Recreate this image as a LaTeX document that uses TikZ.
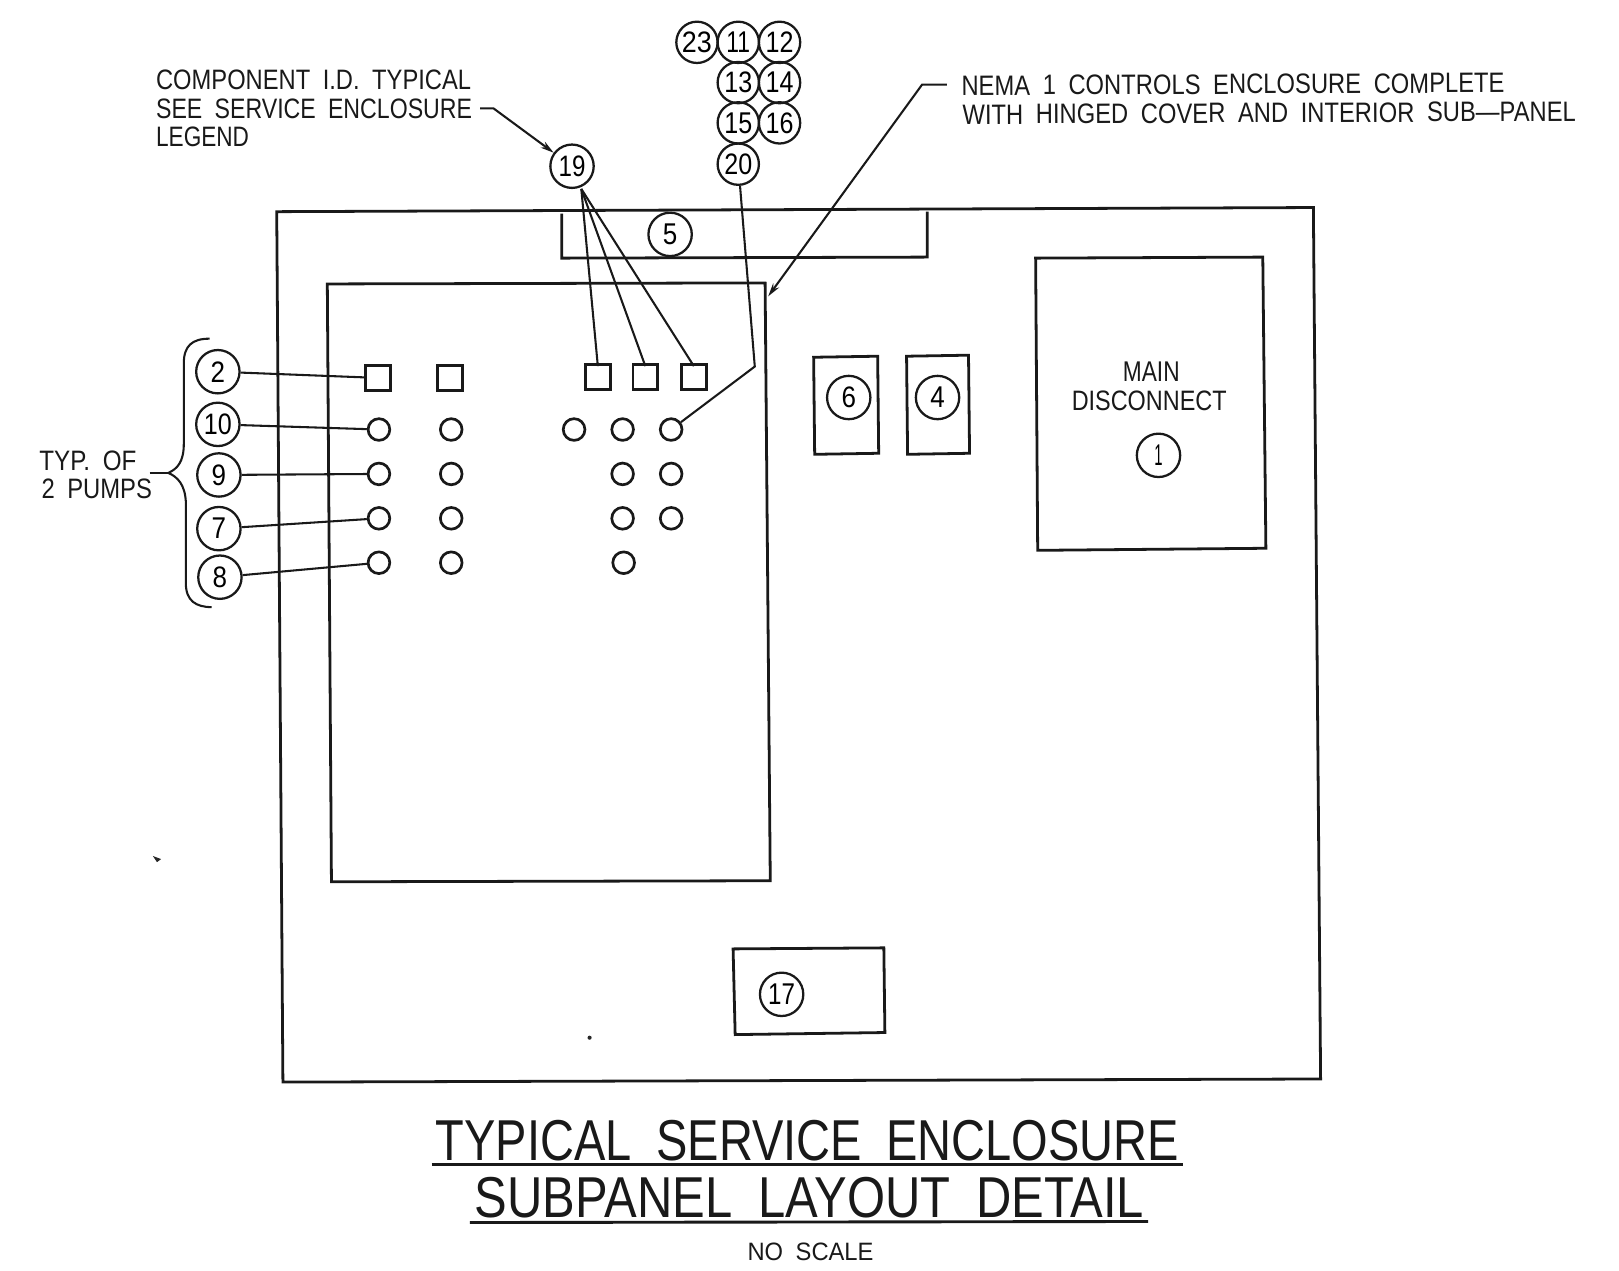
\documentclass[tikz,border=0pt]{standalone}
\usepackage{fontspec}
\usepackage{graphicx}
\setmainfont[WordSpace=1.9]{Liberation Sans}
\usetikzlibrary{arrows.meta}
\newcommand{\ft}[3]{\resizebox{#1pt}{#2pt}{\fontsize{20pt}{20pt}\selectfont #3}}
\tikzset{
  box/.style={line width=2.7pt,line join=miter,black!90},
  lead/.style={line width=2pt,black!90},
  tick/.style={lead,-{Stealth[length=13pt,width=7pt]}},
  bub/.style={circle,draw=black!90,line width=2.2pt,minimum size=40pt,inner sep=0pt,fill=none},
  big/.style={bub,minimum size=42pt},
  sq/.style={rectangle,draw=black!90,line width=2.8pt,minimum size=24pt,inner sep=0pt},
  dot/.style={circle,draw=black!90,line width=2.6pt,minimum size=21pt,inner sep=0pt},
  lab/.style={inner sep=0pt,anchor=west,text=black!90},
  clab/.style={inner sep=0pt,anchor=center,text=black!90},
  under/.style={line width=2.8pt,black!90}
}
\begin{document}
\begin{tikzpicture}[x=1pt,y=-1pt]
\useasboundingbox (0,0) rectangle (1568,1230);
% boxes
\draw[box] (268,205) -- (1272,201) -- (1279,1045) -- (274,1048) -- cycle;
\draw[box] (544,207) -- (544,250) -- (898,249) -- (898,205);
\draw[box] (317,275) -- (741,274) -- (746,853) -- (321,854) -- cycle;
\draw[box] (1003,250) -- (1223,249) -- (1226,531) -- (1005,533) -- cycle;
\draw[box] (788,346) -- (850,345) -- (851,439) -- (789,440) -- cycle;
\draw[box] (878,345) -- (938,344) -- (939,439) -- (879,440) -- cycle;
\draw[box] (710,919) -- (856,918) -- (857,1000) -- (712,1002) -- cycle;
% squares
\node[sq] (s1) at (366,366) {};
\node[sq] (s2) at (436,366) {};
\node[sq] (s3) at (579,365) {};
\node[sq] (s4) at (625,365) {};
\node[sq] (s5) at (672,365) {};
% small circles
\foreach \n/\x/\y in {a1/367/416,a2/367/459,a3/367/502,a4/367/545,c1/437/416,c2/437/459,c3/437/502,c4/437/545,
  d1/556/416,e1/603/416,e2/603/459,e3/603/502,e4/604/545,f1/650/416,f2/650/459,f3/650/502}
  \node[dot] (\n) at (\x,\y) {};
% bubbles
\node[big] (b2) at (211,360) {\ft{14}{20}{2}};
\node[big] (b10) at (211,411) {\ft{27}{20}{10}};
\node[big] (b9) at (212,460) {\ft{14}{20}{9}};
\node[big] (b7) at (212,512) {\ft{14}{20}{7}};
\node[big] (b8) at (213,559) {\ft{14}{20}{8}};
\node[big] (b19) at (554,161) {\ft{26}{20}{19}};
\node[bub] (b20) at (715,159) {\ft{27}{20}{20}};
\node[bub] (b23) at (675,41) {\ft{29}{20}{23}};
\node[bub] (b11) at (715,41) {\ft{23}{20}{11}};
\node[bub] (b12) at (755,41) {\ft{27}{20}{12}};
\node[bub] (b13) at (715,80) {\ft{27}{20}{13}};
\node[bub] (b14) at (755,80) {\ft{27}{20}{14}};
\node[bub] (b15) at (715,119) {\ft{27}{20}{15}};
\node[bub] (b16) at (755,119) {\ft{27}{20}{16}};
\node[big] (b5) at (649,227) {\ft{14}{20}{5}};
\node[big] (b6) at (822,385) {\ft{14}{20}{6}};
\node[big] (b4) at (908,385) {\ft{14}{20}{4}};
\node[big] (b1) at (1122,441) {\ft{8}{20}{1}};
\node[big] (b17) at (757,963) {\ft{26}{20}{17}};
% texts
\node[lab] (t1) at (151,77) {\ft{305}{19}{COMPONENT I.D. TYPICAL}};
\node[lab] (t2) at (151,105) {\ft{306}{19}{SEE SERVICE ENCLOSURE}};
\node[lab] (t3) at (151,133) {\ft{90}{19}{LEGEND}};
\node[lab,rotate=0.3] (t4) at (931,83) {\ft{526}{19}{NEMA 1 CONTROLS ENCLOSURE COMPLETE}};
\node[lab,rotate=0.3] (t5) at (932,111) {\ft{594}{19}{WITH HINGED COVER AND INTERIOR SUB---PANEL}};
\node[clab] (t6) at (1115,360) {\ft{55}{19}{MAIN}};
\node[clab] (t7) at (1113,388) {\ft{150}{19}{DISCONNECT}};
\node[lab] (t8) at (38,446) {\ft{94}{19}{TYP. OF}};
\node[lab] (t9) at (40,473) {\ft{107}{19}{2 PUMPS}};
\node[clab] (t10) at (782,1105) {\ft{720}{39}{TYPICAL SERVICE ENCLOSURE}};
\node[clab] (t11) at (784,1160) {\ft{648}{39}{SUBPANEL LAYOUT DETAIL}};
\node[clab] (t12) at (785,1212) {\ft{122}{17}{NO SCALE}};
% title underlines
\draw[under] (418,1128) -- (1146,1128);
\draw[under] (455,1184) -- (1112,1183);
% leaders
\foreach \b/\t in {b2/s1,b10/a1,b9/a2,b7/a3,b8/a4} \draw[lead] (\b) -- (\t);
\foreach \t in {s3,s4,s5} {
  \coordinate (o\t) at (563,183);
  \draw[lead] (o\t) -- ([yshift=-3pt]\t.north);
}
\coordinate (k20) at (731,355);
\draw[lead] (b20) -- (k20) -- (f1);
\coordinate (k19a) at (465,105);
\coordinate (k19b) at (478,105);
\draw[tick] (k19a) -- (k19b) -- (b19);
\coordinate (kna) at (917,82);
\coordinate (knb) at (893,82);
\coordinate (knc) at (744,287);
\draw[tick] (kna) -- (knb) -- (knc);
% brace
\coordinate (brt) at (203,328);
\coordinate (brm) at (163,458);
\coordinate (brb) at (205,588);
\coordinate (brl) at (145,458);
\draw[lead] (brt) .. controls (186,328) and (178,335) .. (178,352)
  -- (178,430) .. controls (178,447) and (172,454) .. (brm)
  .. controls (172,462) and (179,469) .. (180,486)
  -- (180,565) .. controls (180,582) and (190,588) .. (brb);
\draw[lead] (brl) -- (brm);
% specks
\fill[black!85] (148,829) -- (156,832) -- (152,835) -- cycle;
\fill[black!85] (571,1005) circle (2pt);
\end{tikzpicture}
\end{document}
